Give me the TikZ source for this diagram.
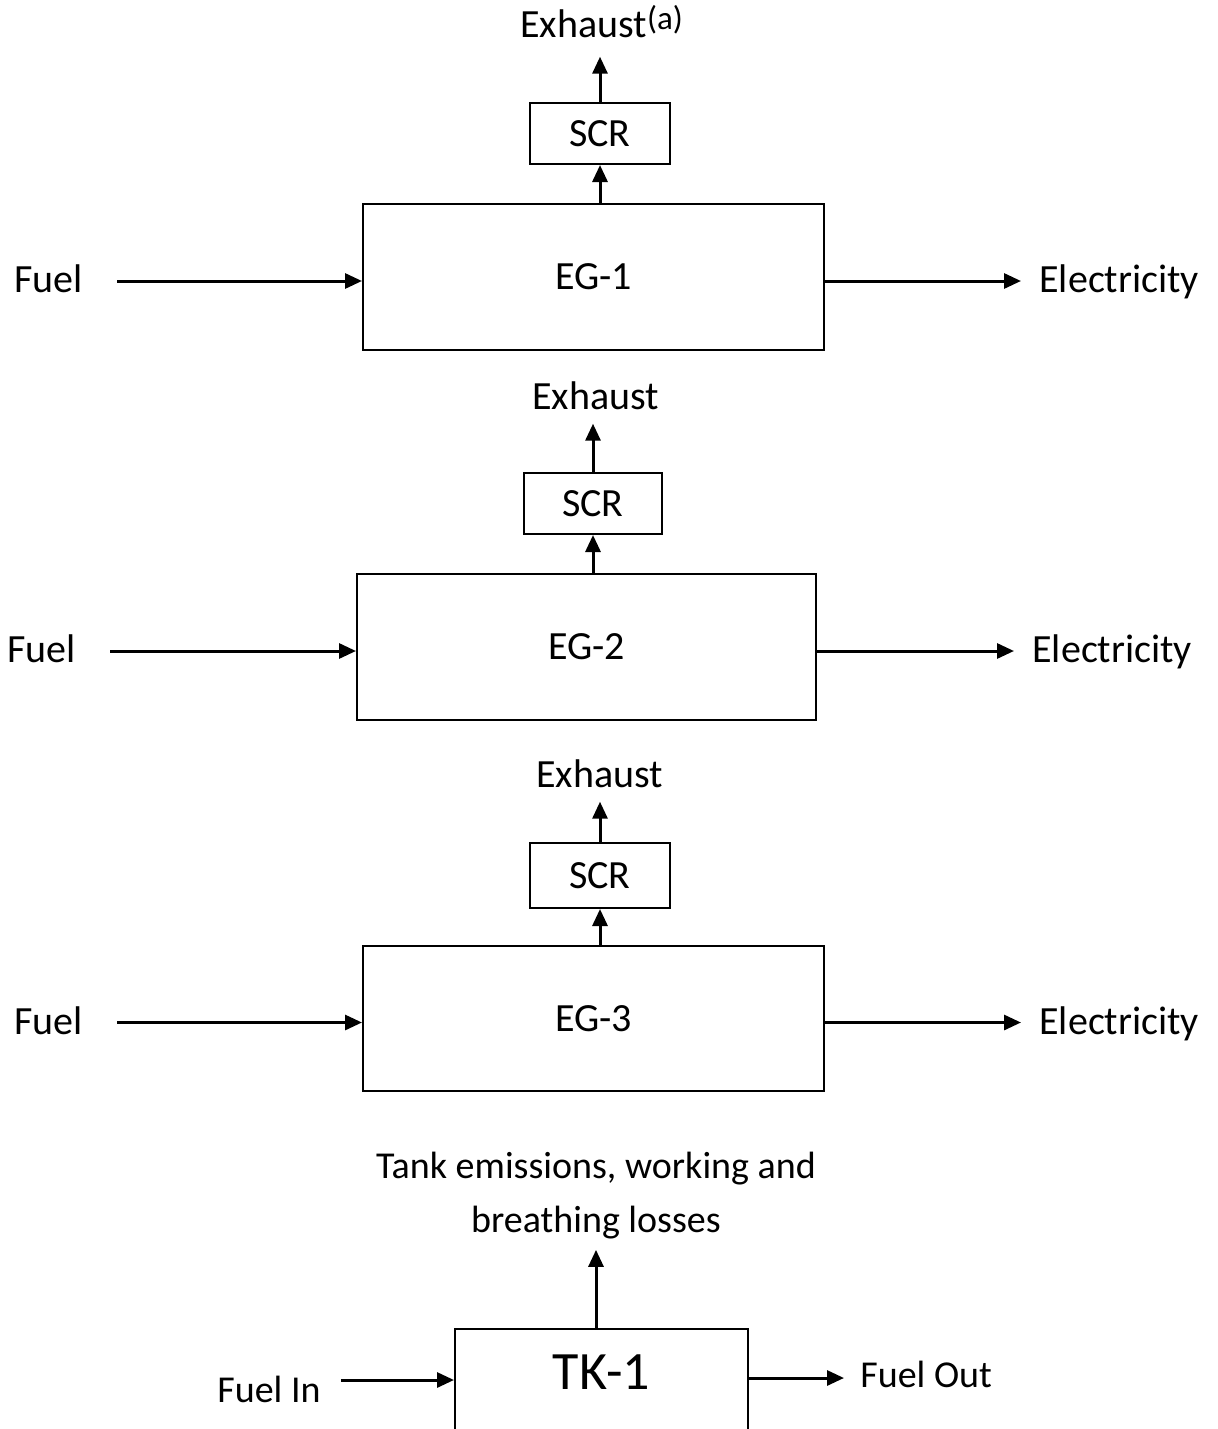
\documentclass[tikz,border=0pt]{standalone}
\usepackage{fontspec}
\setmainfont{Carlito}
\usetikzlibrary{arrows.meta}
\tikzset{
  arr/.style={line width=1.5pt, -{Triangle[length=8.5pt,width=7.5pt]}},
  box/.style={draw, line width=1pt, inner sep=0pt, font=\fontsize{20}{24}\selectfont},
  lbl/.style={inner sep=0pt, font=\fontsize{20}{24}\selectfont},
  slbl/.style={inner sep=0pt, font=\fontsize{19}{23}\selectfont},
}
\begin{document}
\begin{tikzpicture}[x=0.5pt,y=-0.5pt]
\useasboundingbox (0,0) rectangle (1218,1429);
% ---------- Row 1
\node[box, minimum width=230.5pt, minimum height=73pt] (eg1) at (593.5,277) {EG-1};
\node[box, minimum width=70pt, minimum height=30.5pt] (scr1) at (600,133.5) {SCR};
\node[lbl, anchor=base west] (ex1) at (520,38) {Exhaust\raisebox{4pt}{\fontsize{16.5}{18}\selectfont(a)}};
\node[lbl, anchor=base west] (fuel1) at (14,292) {Fuel};
\node[lbl, anchor=base west] (el1) at (1039,292) {Electricity};
\draw[arr] (scr1.south |- eg1.north) -- (scr1.south);
\draw[arr, shorten >=9pt] (scr1.north) -- (scr1.north |- ex1.south);
\draw[arr, shorten <=17pt] ([yshift=-2pt]eg1.west -| fuel1.east) -- ([yshift=-2pt]eg1.west);
\draw[arr, shorten >=9pt] ([yshift=-2pt]eg1.east) -- ([yshift=-2pt]eg1.east -| el1.west);
% ---------- Row 2
\node[box, minimum width=229.5pt, minimum height=73pt] (eg2) at (586.5,647) {EG-2};
\node[box, minimum width=69pt, minimum height=30.5pt] (scr2) at (593,503.5) {SCR};
\node[lbl, anchor=base west] (ex2) at (532,409) {Exhaust};
\node[lbl, anchor=base west] (fuel2) at (7,662) {Fuel};
\node[lbl, anchor=base west] (el2) at (1032,662) {Electricity};
\draw[arr] (scr2.south |- eg2.north) -- (scr2.south);
\draw[arr, shorten >=7pt] (scr2.north) -- (scr2.north |- ex2.south);
\draw[arr, shorten <=17pt] ([yshift=-2pt]eg2.west -| fuel2.east) -- ([yshift=-2pt]eg2.west);
\draw[arr, shorten >=9pt] ([yshift=-2pt]eg2.east) -- ([yshift=-2pt]eg2.east -| el2.west);
% ---------- Row 3
\node[box, minimum width=230.5pt, minimum height=72.5pt] (eg3) at (593.5,1018.5) {EG-3};
\node[box, minimum width=70pt, minimum height=32.5pt] (scr3) at (600,875.5) {SCR};
\node[lbl, anchor=base west] (ex3) at (536,787) {Exhaust};
\node[lbl, anchor=base west] (fuel3) at (14,1034) {Fuel};
\node[lbl, anchor=base west] (el3) at (1039,1034) {Electricity};
\draw[arr] (scr3.south |- eg3.north) -- (scr3.south);
\draw[arr, shorten >=7pt] (scr3.north) -- (scr3.north |- ex3.south);
\draw[arr, shorten <=17pt] ([yshift=-2pt]eg3.west -| fuel3.east) -- ([yshift=-2pt]eg3.west);
\draw[arr, shorten >=9pt] ([yshift=-2pt]eg3.east) -- ([yshift=-2pt]eg3.east -| el3.west);
% ---------- Tank
\node[draw, line width=1pt, anchor=north, minimum width=146.5pt, inner xsep=0pt, inner ysep=14pt,
      text height=16pt, text depth=60pt, font=\fontsize{27}{32}\selectfont] (tk1) at (601.5,1328) {TK-1};
\node[slbl, align=center] (tank) at (596,1196) {Tank emissions, working and\\[4pt]breathing losses};
\node[slbl, anchor=base west] (fin) at (217,1402) {Fuel In};
\node[slbl, anchor=base west] (fout) at (860,1387) {Fuel Out};
\coordinate (fa) at ([yshift=-26pt]tk1.north west);
\coordinate (fb) at ([yshift=-25pt]tk1.north east);
\draw[arr, shorten >=5pt] (tank.south |- tk1.north) -- (tank.south);
\draw[arr, shorten <=10pt] (fa -| fin.east) -- (fa);
\draw[arr, shorten >=8pt] (fb) -- (fb -| fout.west);
\end{tikzpicture}
\end{document}
